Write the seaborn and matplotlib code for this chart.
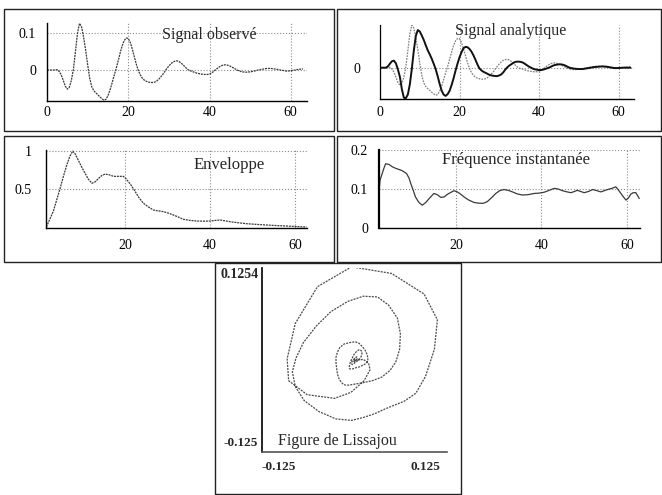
import matplotlib
matplotlib.use("Agg")
import matplotlib.pyplot as plt
from matplotlib.patches import Rectangle
import seaborn as sns

# ---------------- data ----------------
t = [0, 0.5, 1, 1.5, 2, 2.5, 3, 3.5, 4, 4.5, 5, 5.5, 6, 6.5, 7, 7.5, 8, 8.5, 9, 9.5,
     10, 10.5, 11, 11.5, 12, 12.5, 13, 13.5, 14, 14.5, 15, 15.5, 16, 16.5, 17, 17.5,
     18, 18.5, 19, 19.5, 20, 20.5, 21, 21.5, 22, 22.5, 23, 23.5, 24, 24.5, 25, 25.5,
     26, 26.5, 27, 27.5, 28, 28.5, 29, 29.5, 30, 30.5, 31, 31.5, 32, 32.5, 33, 33.5,
     34, 34.5, 35, 35.5, 36, 36.5, 37, 37.5, 38, 38.5, 39, 39.5, 40, 40.5, 41, 41.5,
     42, 42.5, 43, 43.5, 44, 44.5, 45, 45.5, 46, 46.5, 47, 47.5, 48,
     49, 50, 51, 52, 53, 54, 55, 56, 57, 58, 59, 60, 61, 62, 63]

signal = [0, 0, 0, 0, 0, 0.001, -0.004, -0.013, -0.028, -0.044, -0.052, -0.047, -0.028,
          0.002, 0.050, 0.100, 0.127, 0.118, 0.090, 0.055, 0.015, -0.022, -0.045, -0.056,
          -0.062, -0.067, -0.073, -0.078, -0.082, -0.080, -0.070, -0.055, -0.036, -0.016,
          0.003, 0.024, 0.046, 0.066, 0.080, 0.087, 0.086, 0.075, 0.057, 0.036, 0.015,
          -0.002, -0.014, -0.023, -0.028, -0.031, -0.033, -0.034,
          -0.034, -0.033, -0.030, -0.025, -0.019, -0.012, -0.004, 0.004, 0.011, 0.017,
          0.022, 0.024, 0.025, 0.023, 0.019, 0.014, 0.008, 0.003, -0.001, -0.003,
          -0.005, -0.007, -0.009, -0.010, -0.011, -0.012, -0.012, -0.012, -0.011, -0.008,
          -0.004, 0.001, 0.005, 0.009, 0.012, 0.014, 0.014, 0.013, 0.011, 0.008, 0.005,
          0.002, -0.001, -0.003, -0.005,
          -0.006, -0.005, -0.003, 0.000, 0.002, 0.004, 0.0045, 0.003, 0.001, -0.001,
          -0.003, -0.002, 0.000, 0.002, 0.003]

hilbert = [0, 0, 0, 0, 0.004, 0.012, 0.019, 0.021, 0.013, -0.005, -0.027, -0.064, -0.089,
           -0.091, -0.080, -0.050, -0.004, 0.050, 0.094, 0.112, 0.108, 0.096, 0.083, 0.067,
           0.052, 0.040, 0.027, 0.012, -0.004, -0.025, -0.048, -0.068, -0.080, -0.084,
           -0.079, -0.069, -0.052, -0.032, -0.009, 0.012, 0.031, 0.046, 0.058, 0.062,
           0.061, 0.056, 0.048, 0.037, 0.024, 0.010, -0.002, -0.008,
           -0.012, -0.015, -0.018, -0.021, -0.023, -0.024, -0.025, -0.025, -0.023, -0.020,
           -0.014, -0.006, 0.001, 0.006, 0.010, 0.014, 0.017, 0.018, 0.018, 0.017,
           0.015, 0.011, 0.007, 0.003, 0.000, -0.003, -0.005, -0.006, -0.007, -0.007,
           -0.006, -0.004, -0.002, 0.000, 0.003, 0.006, 0.008, 0.009, 0.010, 0.010, 0.009,
           0.007, 0.004, 0.001, -0.001,
           -0.003, -0.004, -0.004, -0.002, 0.000, 0.002, 0.003, 0.004, 0.003, 0.001,
           -0.001, -0.001, 0.000, 0.000, 0.000]

env_x = [1.5, 2.2, 3.1, 3.9, 4.7, 5.5, 6.3, 7.0, 7.7, 8.3, 9.0, 9.8, 10.6, 11.4, 12.2,
         13.0, 13.7, 14.5, 15.3, 16.3, 17.3, 18.5, 19.6, 20.2, 20.8, 21.6, 22.4, 23.3,
         24.3, 25.5, 26.7, 27.8, 29.0, 30.2, 31.4, 32.5, 33.7, 35.3, 36.9, 38.5, 40.0,
         41.2, 42.4, 43.5, 44.7, 46.6, 48.6, 51.0, 53.3, 55.6, 58.0, 60.4, 62.7]
env_y = [0.01, 0.10, 0.21, 0.36, 0.51, 0.67, 0.82, 0.93, 1.0, 0.96, 0.88, 0.79, 0.71,
         0.63, 0.58, 0.60, 0.64, 0.68, 0.70, 0.69, 0.67, 0.67, 0.67, 0.64, 0.60, 0.54,
         0.47, 0.39, 0.32, 0.27, 0.23, 0.22, 0.21, 0.19, 0.165, 0.14, 0.11, 0.095, 0.087,
         0.085, 0.087, 0.095, 0.10, 0.09, 0.078, 0.065, 0.052, 0.043, 0.035, 0.028,
         0.022, 0.015, 0.009]

freq_x = [2.0, 2.2, 3.0, 3.5, 4.3, 5.1, 5.9, 6.7, 7.4, 8.4, 9.0, 9.4, 10.0, 10.5, 11.3,
          12.1, 12.9, 13.7, 14.8, 15.6, 16.4, 17.2, 18.0, 19.5, 20.3, 21.1, 22.0, 23.0,
          24.2, 25.4, 26.4, 27.3, 28.3, 29.3, 30.2, 31.2, 32.2, 33.2, 34.3, 35.5, 36.9,
          38.3, 39.5, 40.6, 41.8, 43.0, 44.0, 44.9, 46.0, 46.9, 47.7, 48.4, 49.2, 50.0,
          51.0, 52.0, 53.0, 53.9, 54.7, 55.5, 56.5, 57.4, 58.0, 58.6, 59.2, 59.8, 60.4,
          60.9, 61.5, 62.1, 62.9]
freq_y = [0.100, 0.123, 0.150, 0.165, 0.163, 0.157, 0.153, 0.150, 0.147, 0.140, 0.128,
          0.114, 0.096, 0.080, 0.066, 0.059, 0.066, 0.076, 0.089, 0.086, 0.079, 0.080,
          0.087, 0.096, 0.093, 0.087, 0.079, 0.072, 0.066, 0.064, 0.064, 0.068, 0.078,
          0.089, 0.096, 0.099, 0.097, 0.093, 0.088, 0.085, 0.086, 0.089, 0.090, 0.092,
          0.097, 0.102, 0.100, 0.096, 0.093, 0.091, 0.094, 0.097, 0.094, 0.091, 0.094,
          0.099, 0.096, 0.093, 0.096, 0.099, 0.102, 0.106, 0.098, 0.089, 0.080, 0.072,
          0.078, 0.087, 0.091, 0.091, 0.076]

x_ticks = [0, 20, 40, 60]
x_ticks_b = [20, 40, 60]

# ---------------- figure ----------------
sns.set_style("white")
plt.rcParams["font.family"] = ["Liberation Serif", "DejaVu Serif"]

W, H = 662, 495
fig = plt.figure(figsize=(W / 100, H / 100), dpi=100)
fig.patch.set_facecolor("white")


def add_ax(l, t_, w, h):
    return fig.add_axes([l / W, 1 - (t_ + h) / H, w / W, h / H])


def box(x0, y0, x1, y1, lw=1.0):
    fig.add_artist(Rectangle((x0 / W, 1 - y1 / H), (x1 - x0) / W, (y1 - y0) / H,
                             transform=fig.transFigure, fill=False, ec="#222222", lw=lw))


def ftext(px, py, s, **kw):
    fig.text(px / W, 1 - py / H, s, **kw)


def style(ax, xlim, ylim, xt, yt, ylabels, xpad, ypad, lw_left=1.0):
    ax.set_xlim(*xlim)
    ax.set_ylim(*ylim)
    ax.set_xticks(xt)
    ax.set_xticklabels([str(v) for v in xt])
    ax.set_yticks(yt)
    ax.set_yticklabels(ylabels)
    for s in ("top", "right"):
        ax.spines[s].set_visible(False)
    ax.spines["left"].set_color("black")
    ax.spines["left"].set_linewidth(lw_left)
    ax.spines["bottom"].set_color("black")
    ax.spines["bottom"].set_linewidth(1.0)
    ax.tick_params(axis="both", direction="in", length=3, width=0.8, colors="black",
                   labelsize=10)
    ax.tick_params(axis="x", pad=xpad)
    ax.tick_params(axis="y", pad=ypad)
    ax.grid(True, linestyle=":", color="#8a8a8a", linewidth=0.8)
    ax.set_facecolor("white")
    ax.set_xlabel("")
    ax.set_ylabel("")


# region boxes
box(4, 9, 334, 131)
box(337, 9, 661, 131)
box(4, 136, 334, 262)
box(337, 136, 661, 262)
box(215, 263, 461, 494)

# Panel 1: Signal observé
ax1 = add_ax(47, 23, 260, 77.5)
sns.lineplot(x=t, y=signal, ax=ax1, color="#3a3a3a", lw=0.9,
             linestyle=(0, (1.6, 0.7)), legend=False)
style(ax1, (0, 64), (-0.083, 0.128), x_ticks, [0, 0.1], ["0", "0.1"], 4, 8)
ftext(209, 35, "Signal observé", fontsize=11.5, ha="center", va="center")

# Panel 2: Signal analytique
ax2 = add_ax(380, 24.7, 254.4, 73.9)
sns.lineplot(x=t, y=signal, ax=ax2, color="#808080", lw=0.9,
             linestyle=(0, (1.4, 0.9)), legend=False)
sns.lineplot(x=t, y=hilbert, ax=ax2, color="#111111", lw=1.4, legend=False)
style(ax2, (0, 64), (-0.092, 0.128), x_ticks, [0], ["0"], 5, 14, lw_left=0.9)
ftext(511, 31, "Signal analytique", fontsize=11.5, ha="center", va="center")

# Panel 3: Enveloppe
ax3 = add_ax(46, 150.3, 261, 77.4)
sns.lineplot(x=env_x, y=env_y, ax=ax3, color="#3a3a3a", lw=0.9,
             linestyle=(0, (1.6, 0.7)), legend=False)
style(ax3, (1.4, 62.8), (0, 1.01), x_ticks_b, [0.5, 1], ["0.5", "1"], 8, 10)
ftext(229, 165, "Enveloppe", fontsize=12, ha="center", va="center")

# Panel 4: Fréquence instantanée
ax4 = add_ax(379.2, 150, 260.5, 78.3)
sns.lineplot(x=freq_x, y=freq_y, ax=ax4, color="#3a3a3a", lw=0.9, legend=False)
style(ax4, (2, 63), (0, 0.2), x_ticks_b, [0, 0.1, 0.2], ["0", "0.1", "0.2"], 8, 8,
      lw_left=1.6)
ftext(516, 160, "Fréquence instantanée", fontsize=12, ha="center", va="center")

# Panel 5: Figure de Lissajou
ax5 = add_ax(262, 268, 185, 184)
sns.lineplot(x=hilbert, y=signal, ax=ax5, sort=False, estimator=None,
             color="#4a4a4a", lw=0.9, linestyle=(0, (1.6, 0.9)), legend=False)
ax5.set_xlim(-0.125, 0.125)
ax5.set_ylim(-0.125, 0.1254)
ax5.set_xticks([-0.075, -0.025, 0.025, 0.075])
ax5.set_yticks([-0.075, -0.025, 0.025, 0.075])
ax5.set_xticklabels([])
ax5.set_yticklabels([])
for s in ("top", "right"):
    ax5.spines[s].set_visible(False)
ax5.spines["left"].set_color("black")
ax5.spines["left"].set_linewidth(1.2)
ax5.spines["bottom"].set_color("#555555")
ax5.spines["bottom"].set_linewidth(1.2)
ax5.tick_params(direction="in", length=3, width=0.8)
ax5.grid(False)
ax5.set_xlabel("")
ax5.set_ylabel("")
ftext(259, 274, "0.1254", fontsize=10, fontweight="bold", ha="right", va="center")
ftext(258, 443, "-0.125", fontsize=9.5, fontweight="bold", ha="right", va="center")
ftext(279, 467, "-0.125", fontsize=9.5, fontweight="bold", ha="center", va="center")
ftext(425, 467, "0.125", fontsize=9.5, fontweight="bold", ha="center", va="center")
ftext(337, 441, "Figure de Lissajou", fontsize=11.5, ha="center", va="center")

fig.savefig("out.png", dpi=100)
